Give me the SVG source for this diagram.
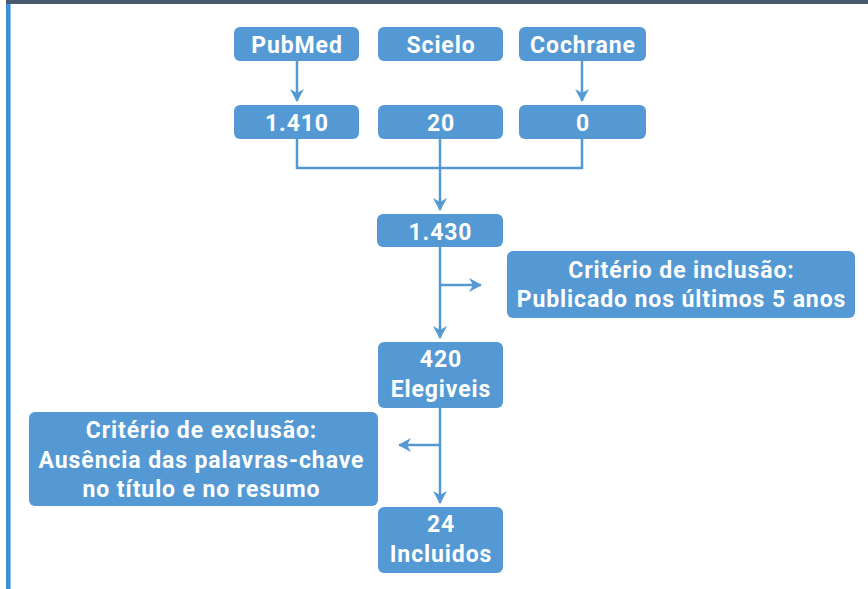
<svg xmlns="http://www.w3.org/2000/svg" width="868" height="589" viewBox="0 0 868 589">
<defs>
<marker id="ah" markerWidth="14" markerHeight="14" viewBox="0 0 14 14" refX="12" refY="7" orient="auto" markerUnits="userSpaceOnUse">
<path d="M0,0 L13,7 L0,14 L4,7 Z" fill="#5499d3"/>
</marker>
<style>
.box{fill:#5499d3;}
.t{font-family:Roboto,"Liberation Sans",sans-serif;font-weight:700;font-size:23px;letter-spacing:0.9px;fill:#ffffff;text-anchor:middle;}
.c{fill:none;stroke:#5499d3;stroke-width:2.5;}
</style>
</defs>
<rect x="0" y="0" width="868" height="589" fill="#ffffff"/>
<rect x="6" y="0" width="862" height="4" fill="#485a70"/>
<rect x="6" y="4" width="4" height="585" fill="#3a8fd6"/>
<rect x="10" y="4" width="1" height="585" fill="#8fc3ec"/>

<g id="connectors">
<path class="c" d="M297,61 V101" marker-end="url(#ah)"/>
<path class="c" d="M582,61 V101" marker-end="url(#ah)"/>
<path class="c" d="M297,139 V168 H582 V139"/>
<path class="c" d="M440,139 V210" marker-end="url(#ah)"/>
<path class="c" d="M440,247 V338" marker-end="url(#ah)"/>
<path class="c" d="M440,285 H481" marker-end="url(#ah)"/>
<path class="c" d="M440,408 V503" marker-end="url(#ah)"/>
<path class="c" d="M440,445 H399" marker-end="url(#ah)"/>
</g>

<g id="pubmed"><rect class="box" x="234" y="27" width="125" height="34" rx="6"/><text class="t" x="297" y="53">PubMed</text></g>
<g id="scielo"><rect class="box" x="378" y="27" width="125" height="34" rx="6"/><text class="t" x="441" y="53">Scielo</text></g>
<g id="cochrane"><rect class="box" x="519" y="27" width="127" height="34" rx="6"/><text class="t" x="583" y="53">Cochrane</text></g>

<g id="n1410"><rect class="box" x="234" y="105" width="125" height="34" rx="6"/><text class="t" x="297" y="131">1.410</text></g>
<g id="n20"><rect class="box" x="378" y="105" width="125" height="34" rx="6"/><text class="t" x="441" y="131">20</text></g>
<g id="n0"><rect class="box" x="519" y="105" width="127" height="34" rx="6"/><text class="t" x="583" y="131">0</text></g>

<g id="n1430"><rect class="box" x="377" y="214" width="126" height="33" rx="6"/><text class="t" x="440.5" y="240">1.430</text></g>

<g id="inclusao"><rect class="box" x="507" y="251" width="348" height="67" rx="6"/>
<text class="t" x="681.5" y="278">Critério de inclusão:</text>
<text class="t" x="681.5" y="307">Publicado nos últimos 5 anos</text></g>

<g id="n420"><rect class="box" x="378" y="342" width="125" height="66" rx="6"/>
<text class="t" x="441" y="367">420</text>
<text class="t" x="441" y="397">Elegiveis</text></g>

<g id="exclusao"><rect class="box" x="29" y="412" width="349" height="94" rx="6"/>
<text class="t" x="201.5" y="438">Critério de exclusão:</text>
<text class="t" x="201.5" y="468">Ausência das palavras-chave</text>
<text class="t" x="201.5" y="497">no título e no resumo</text></g>

<g id="n24"><rect class="box" x="378" y="507" width="125" height="66" rx="6"/>
<text class="t" x="441" y="532">24</text>
<text class="t" x="441" y="562">Incluidos</text></g>
</svg>
